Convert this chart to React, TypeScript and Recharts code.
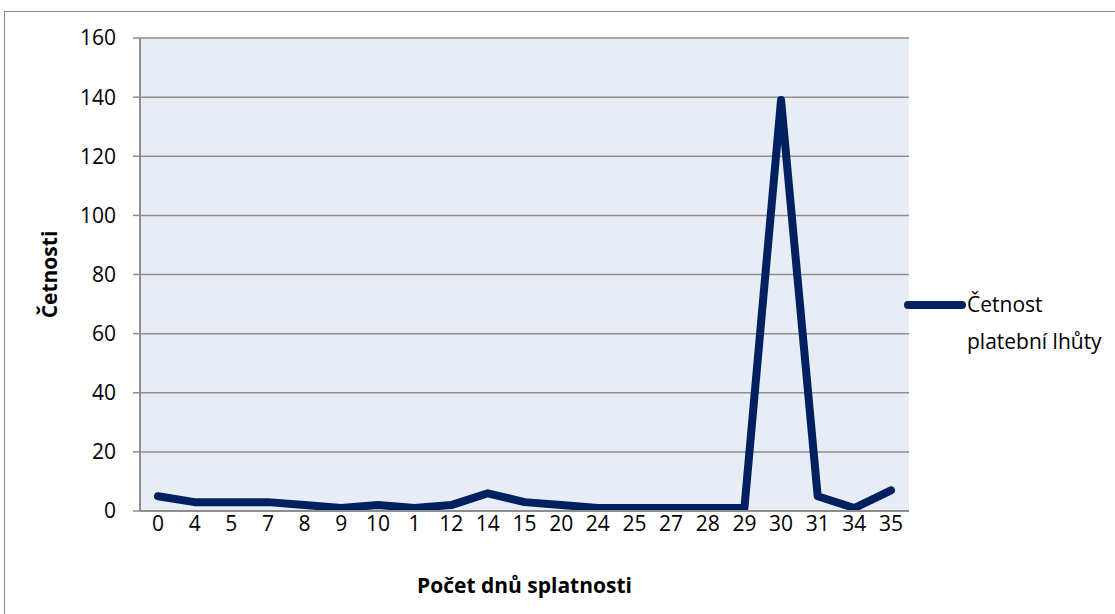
import React from "react";
import { LineChart, Line, XAxis, YAxis, CartesianGrid, Label } from "recharts";

const categories = ["0", "4", "5", "7", "8", "9", "10", "1", "12", "14", "15", "20", "24", "25", "27", "28", "29", "30", "31", "34", "35"];
const counts = [5, 3, 3, 3, 2, 1, 2, 1, 2, 6, 3, 2, 1, 1, 1, 1, 1, 139, 5, 1, 7];
const yTicks = [0, 20, 40, 60, 80, 100, 120, 140, 160];
const legendLines = ["Četnost", "platební lhůty"];

const data = categories.map((c, i) => ({ day: c, value: counts[i] }));

const FONT = "'Open Sans', 'Liberation Sans', sans-serif";
const LINE_COLOR = "#002060";
const GRID = "#8e8e8e";

export default function App() {
  return (
    <div style={{ position: "absolute", left: 0, top: 0, width: 1115, height: 614, background: "#fff", overflow: "hidden" }}>
      <div style={{ position: "absolute", left: 4, top: 11, width: 1130, height: 630, border: "1.5px solid #8a8a8a", boxSizing: "border-box" }} />
      <LineChart
        width={1115}
        height={614}
        data={data}
        margin={{ top: 38, right: 206, bottom: 0, left: 0 }}
        style={{ position: "absolute", left: 0, top: 0 }}
      >
        <CartesianGrid vertical={false} stroke={GRID} strokeWidth={1.5} fill="#E8ECF4" fillOpacity={1} />
        <XAxis
          dataKey="day"
          height={103}
          padding={{ left: 18, right: 18 }}
          tickLine={false}
          axisLine={{ stroke: GRID, strokeWidth: 2 }}
          tick={{ fontFamily: FONT, fontSize: 21, fill: "#000" }}
          tickMargin={-1}
          interval={0}
        >
          <Label value="Počet dnů splatnosti" position="insideBottom" offset={21} style={{ fontFamily: FONT, fontSize: 21, fontWeight: "bold", fill: "#000" }} />
        </XAxis>
        <YAxis
          width={140}
          domain={[0, 160]}
          ticks={yTicks}
          interval={0}
          tickSize={7}
          tickLine={{ stroke: GRID, strokeWidth: 1.5 }}
          axisLine={{ stroke: GRID, strokeWidth: 2 }}
          tick={{ fontFamily: FONT, fontSize: 21, fill: "#000" }}
          tickMargin={17}
        >
          <Label value="Četnosti" angle={-90} position="insideLeft" offset={50} style={{ fontFamily: FONT, fontSize: 21, fontWeight: "bold", fill: "#000", textAnchor: "middle" }} />
        </YAxis>
        <Line
          type="linear"
          dataKey="value"
          name={legendLines.join(" ")}
          stroke={LINE_COLOR}
          strokeWidth={8}
          strokeLinejoin="round"
          strokeLinecap="round"
          dot={false}
          activeDot={false}
          isAnimationActive={false}
        />
      </LineChart>
      <div style={{ position: "absolute", left: 901, top: 286, display: "flex", alignItems: "flex-start", fontFamily: FONT, fontSize: 21, color: "#000", lineHeight: "37px" }}>
        <svg width={66} height={37} style={{ flex: "none" }}>
          <line x1={7} y1={19} x2={61} y2={19} stroke={LINE_COLOR} strokeWidth={8} strokeLinecap="round" />
        </svg>
        <div style={{ width: 160 }}>
          {legendLines[0]}
          <br />
          {legendLines[1]}
        </div>
      </div>
    </div>
  );
}
